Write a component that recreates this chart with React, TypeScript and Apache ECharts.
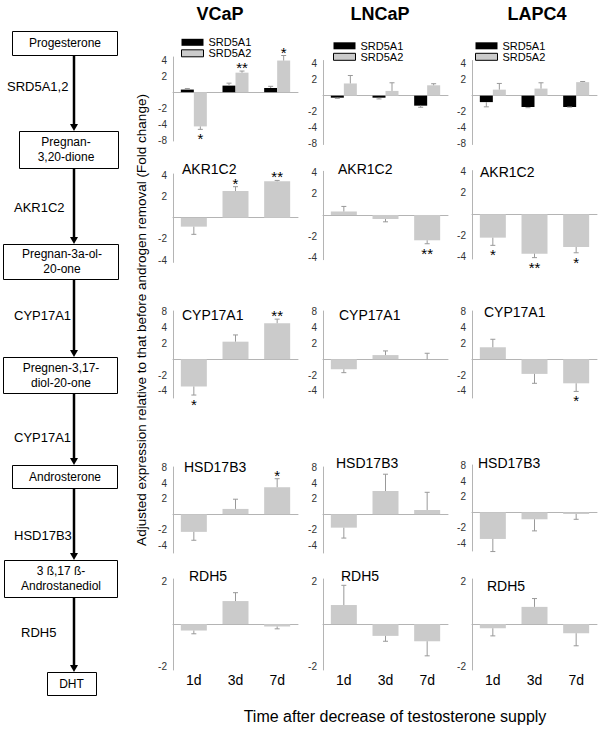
import React, { useEffect, useRef } from "react";
import * as echarts from "echarts";

const cellLines = ["VCaP", "LNCaP", "LAPC4"];
const timepoints = ["1d", "3d", "7d"];
const geneTitles = ["SRD5A", "AKR1C2", "CYP17A1", "HSD17B3", "RDH5"];
const legendNames = ["SRD5A1", "SRD5A2"];

// Signed fold change per cell line [VCaP, LNCaP, LAPC4] x time [1d, 3d, 7d]
const srd5a1Fold = [[1.12, 1.33, 1.2], [-1.09, -1.09, -1.54], [-1.32, -1.63, -1.63]];
const srd5a1ErrEnd = [[1.17, 1.48, 1.29], [-1.12, -1.15, -1.65], [-1.62, -1.68, -1.64]];
const srd5a1Stars = [["", "", ""], ["", "", ""], ["", "", ""]];
const srd5a2Fold = [[-4.4, 2.33, 3.94], [1.7, 1.23, 1.57], [1.3, 1.36, 1.8]];
const srd5a2ErrEnd = [[-5.0, 2.5, 4.9], [2.4, 1.75, 1.68], [1.7, 1.75, 1.85]];
const srd5a2Stars = [["*", "**", "*"], ["", "", ""], ["", "", ""]];

const akr1c2Fold = [[-1.34, 2.38, 3.26], [1.12, -1.14, -2.28], [-2.14, -3.6, -2.9]];
const akr1c2ErrEnd = [[-1.72, 2.74, 3.36], [1.32, -1.25, -2.55], [-2.75, -4.1, -3.5]];
const akr1c2Stars = [["", "*", "**"], ["", "", "**"], ["*", "**", "*"]];

const cyp17a1Fold = [[-3.3, 2.16, 4.85], [-1.55, 1.2, 1.0], [1.69, -1.9, -2.87]];
const cyp17a1ErrEnd = [[-4.8, 2.9, 5.8], [-1.8, 1.44, 1.3], [2.4, -2.87, -4.1]];
const cyp17a1Stars = [["*", "", "**"], ["", "", ""], ["", "", "*"]];

const hsd17b3Fold = [[-2.2, 1.27, 3.35], [-1.82, 2.83, 1.21], [-3.3, -1.37, -1.08]];
const hsd17b3ErrEnd = [[-3.2, 1.96, 4.9], [-2.9, 6.0, 2.67], [-5.8, -2.3, -1.37]];
const hsd17b3Stars = [["", "", "*"], ["", "", ""], ["", "", ""]];

const rdh5Fold = [[-1.11, 1.45, -1.04], [1.36, -1.21, -1.32], [-1.07, 1.32, -1.16]];
const rdh5ErrEnd = [[-1.17, 1.66, -1.08], [1.87, -1.32, -1.67], [-1.21, 1.51, -1.42]];
const rdh5Stars = [["", "", ""], ["", "", ""], ["", "", ""]];

const singleRows = [
  { fold: akr1c2Fold, err: akr1c2ErrEnd, stars: akr1c2Stars },
  { fold: cyp17a1Fold, err: cyp17a1ErrEnd, stars: cyp17a1Stars },
  { fold: hsd17b3Fold, err: hsd17b3ErrEnd, stars: hsd17b3Stars },
  { fold: rdh5Fold, err: rdh5ErrEnd, stars: rdh5Stars },
];

// Pathway diagram
const pathwaySteps = [
  "Progesterone",
  "Pregnan-\n3,20-dione",
  "Pregnan-3a-ol-\n20-one",
  "Pregnen-3,17-\ndiol-20-one",
  "Androsterone",
  "3 ß,17 ß-\nAndrostanediol",
  "DHT",
];
const pathwayEnzymes = ["SRD5A1,2", "AKR1C2", "CYP17A1", "CYP17A1", "HSD17B3", "RDH5"];

const yTitle = "Adjusted expression relative to that before androgen removal (Fold change)";
const xTitle = "Time after decrease of testosterone supply";

// ---------- layout / style ----------
const FONT = "'Liberation Sans', Arial, sans-serif";
const BAR_GRAY = "#cbcbcb";
const AXIS_GRAY = "#b4b4b4";
const colLeft = [173, 323, 472];
const plotWidth = 125;
const rowLayout = [
  { tops: [57, 60.5, 60.5], height: 84, min: -3.05, max: 2.2 },
  { tops: [174, 171.3, 170.6], height: 88.4, min: -2.1, max: 2.05 },
  { tops: [311, 311, 311], height: 87, min: -2.45, max: 3.05 },
  { tops: [467, 467, 465], height: 86, min: -2.5, max: 3.05 },
  { tops: [579, 579, 579], height: 91, min: -1.07, max: 1.05 },
];
const colTitlePos = [220, 380, 537];
const geneTitlePos = [
  null,
  [[182, 169], [338, 169], [480, 172]],
  [[182, 315], [339, 315], [484, 312]],
  [[184, 467], [336, 463], [478, 463]],
  [[189, 576], [341, 576], [487, 586]],
];
const legendPos = [[181, 36.8], [333, 40.3], [475, 40.3]];
const boxes = [
  [12, 31, 105, 24],
  [19, 131, 99, 37],
  [3, 244, 115, 35],
  [3, 357, 114, 36],
  [12, 465, 105, 23],
  [4, 560, 113, 37],
  [47, 672, 49, 23],
];
const boxTextX = [65, 66, 62, 61, 65, 61, 71.5];
const enzymeLabelPos = [[7, 86], [14, 207], [14, 315], [14, 437], [14, 535], [21, 632]];
const ARROW_X = 74;

const toLog = (v: number) => (v === 0 ? 0 : Math.sign(v) * Math.log2(Math.abs(v)));
const tickFormatter = (v: number) => {
  const r = Math.round(v);
  if (Math.abs(v - r) > 1e-6 || r === 0) return "";
  return r > 0 ? String(2 ** r) : String(-(2 ** -r));
};

function buildOption() {
  const grid: any[] = [];
  const xAxis: any[] = [];
  const yAxis: any[] = [];
  const series: any[] = [];
  const graphic: any[] = [];

  const errSeries = (xi: number, yi: number, fold: number[], err: number[], stars: string[], offset: number) => ({
    type: "custom",
    xAxisIndex: xi,
    yAxisIndex: yi,
    silent: true,
    z: 4,
    data: fold.map((v, k) => [k, toLog(v), toLog(err[k])]),
    renderItem: (params: any, api: any) => {
      const idx = api.value(0);
      const v = api.value(1);
      const e = api.value(2);
      const p0 = api.coord([idx, v]);
      const p1 = api.coord([idx, e]);
      const x = p0[0] + offset;
      const children: any[] = [
        { type: "line", shape: { x1: x, y1: p0[1], x2: x, y2: p1[1] }, style: { stroke: "#999", lineWidth: 1 } },
        { type: "line", shape: { x1: x - 2.5, y1: p1[1], x2: x + 2.5, y2: p1[1] }, style: { stroke: "#999", lineWidth: 1 } },
      ];
      const star = stars[params.dataIndex];
      if (star) {
        const up = v >= 0;
        children.push({
          type: "text",
          style: {
            text: star,
            x,
            y: up ? p1[1] - 3.5 : p1[1] + 9.5,
            align: "center",
            verticalAlign: "middle",
            fontSize: 15,
            lineHeight: 8,
            fontFamily: FONT,
            fill: "#000",
          },
        });
      }
      return { type: "group", children };
    },
  });

  for (let r = 0; r < 5; r++) {
    const L = rowLayout[r];
    for (let c = 0; c < 3; c++) {
      const gi = grid.length;
      grid.push({ left: colLeft[c], top: L.tops[c], width: plotWidth, height: L.height, containLabel: false });
      const xi = xAxis.length;
      xAxis.push({
        type: "category",
        gridIndex: gi,
        data: timepoints,
        axisLine: { onZero: true, lineStyle: { color: AXIS_GRAY, width: 1 } },
        axisTick: { show: false },
        axisLabel: { show: false },
        splitLine: { show: false },
      });
      const yi = yAxis.length;
      yAxis.push({
        type: "value",
        gridIndex: gi,
        min: L.min,
        max: L.max,
        minInterval: 1,
        maxInterval: 1,
        axisLine: { show: true, onZero: false, lineStyle: { color: AXIS_GRAY, width: 1 } },
        axisTick: { show: false },
        splitLine: { show: false },
        axisLabel: { formatter: tickFormatter, fontSize: 10, color: "#333", fontFamily: FONT, margin: 6 },
      });
      if (r === 0) {
        series.push({
          name: legendNames[0],
          type: "bar",
          xAxisIndex: xi,
          yAxisIndex: yi,
          barWidth: 13,
          barGap: "0%",
          itemStyle: { color: "#000" },
          data: srd5a1Fold[c].map(toLog),
        });
        series.push({
          name: legendNames[1],
          type: "bar",
          xAxisIndex: xi,
          yAxisIndex: yi,
          barWidth: 13,
          barGap: "0%",
          itemStyle: { color: BAR_GRAY },
          data: srd5a2Fold[c].map(toLog),
        });
        series.push(errSeries(xi, yi, srd5a1Fold[c], srd5a1ErrEnd[c], srd5a1Stars[c], -6.5));
        series.push(errSeries(xi, yi, srd5a2Fold[c], srd5a2ErrEnd[c], srd5a2Stars[c], 6.5));
      } else {
        const d = singleRows[r - 1];
        series.push({
          name: geneTitles[r] + " " + cellLines[c],
          type: "bar",
          xAxisIndex: xi,
          yAxisIndex: yi,
          barWidth: 26,
          itemStyle: { color: BAR_GRAY },
          data: d.fold[c].map(toLog),
        });
        series.push(errSeries(xi, yi, d.fold[c], d.err[c], d.stars[c], 0));
        const tp = (geneTitlePos[r] as number[][])[c];
        graphic.push({
          type: "text",
          x: tp[0],
          y: tp[1],
          style: { text: geneTitles[r], fontSize: 14, fontFamily: FONT, fill: "#000", align: "left", verticalAlign: "middle" },
        });
      }
      if (r === 4) {
        xAxis.push({
          type: "category",
          gridIndex: gi,
          position: "bottom",
          data: timepoints,
          axisLine: { show: false, onZero: false },
          axisTick: { show: false },
          axisLabel: { show: true, fontSize: 14, color: "#000", fontFamily: FONT, margin: 3 },
          splitLine: { show: false },
        });
      }
    }
  }

  const legend = legendPos.map((p) => ({
    left: p[0],
    top: p[1],
    orient: "vertical",
    itemWidth: 22,
    itemHeight: 7,
    itemGap: 0,
    selectedMode: false,
    padding: 0,
    icon: "rect",
    textStyle: { fontSize: 11, lineHeight: 10.5, fontFamily: FONT, color: "#000" },
    data: [
      { name: legendNames[0], itemStyle: { color: "#000" } },
      { name: legendNames[1], itemStyle: { color: BAR_GRAY, borderColor: "#000", borderWidth: 1 } },
    ],
  }));

  cellLines.forEach((name, c) => {
    graphic.push({
      type: "text",
      x: colTitlePos[c],
      y: 14,
      style: { text: name, fontSize: 18, fontWeight: "bold", fontFamily: FONT, fill: "#000", align: "center", verticalAlign: "middle" },
    });
  });

  graphic.push({
    type: "text",
    x: 141,
    y: 320,
    rotation: Math.PI / 2,
    style: { text: yTitle, fontSize: 13.5, fontFamily: FONT, fill: "#000", align: "center", verticalAlign: "middle" },
  });
  graphic.push({
    type: "text",
    x: 395,
    y: 716,
    style: { text: xTitle, fontSize: 16, fontFamily: FONT, fill: "#000", align: "center", verticalAlign: "middle" },
  });

  boxes.forEach((b, i) => {
    graphic.push({
      type: "rect",
      shape: { x: b[0] + 0.5, y: b[1] + 0.5, width: b[2], height: b[3] },
      style: { fill: "#fff", stroke: "#000", lineWidth: 1 },
    });
    graphic.push({
      type: "text",
      x: boxTextX[i],
      y: b[1] + b[3] / 2,
      style: {
        text: pathwaySteps[i],
        fontSize: 12,
        lineHeight: 15,
        fontFamily: FONT,
        fill: "#000",
        align: "center",
        verticalAlign: "middle",
      },
    });
    if (i < boxes.length - 1) {
      const y1 = b[1] + b[3] + 1;
      const y2 = boxes[i + 1][1];
      graphic.push({
        type: "line",
        shape: { x1: ARROW_X, y1, x2: ARROW_X, y2: y2 - 5 },
        style: { stroke: "#000", lineWidth: 2.5 },
      });
      graphic.push({
        type: "polygon",
        shape: { points: [[ARROW_X - 4, y2 - 7], [ARROW_X + 4, y2 - 7], [ARROW_X, y2]] },
        style: { fill: "#000" },
      });
      const lp = enzymeLabelPos[i];
      graphic.push({
        type: "text",
        x: lp[0],
        y: lp[1],
        style: { text: pathwayEnzymes[i], fontSize: 13, fontFamily: FONT, fill: "#000", align: "left", verticalAlign: "middle" },
      });
    }
  });

  return {
    animation: false,
    backgroundColor: "#fff",
    grid,
    xAxis,
    yAxis,
    legend,
    series,
    graphic,
  };
}

export default function App() {
  const ref = useRef<HTMLDivElement>(null);
  useEffect(() => {
    if (!ref.current) return;
    const chart = echarts.init(ref.current, undefined, { renderer: "svg" });
    chart.setOption(buildOption() as any);
    return () => chart.dispose();
  }, []);
  return <div ref={ref} style={{ position: "fixed", left: 0, top: 0, width: 603, height: 731 }} />;
}
